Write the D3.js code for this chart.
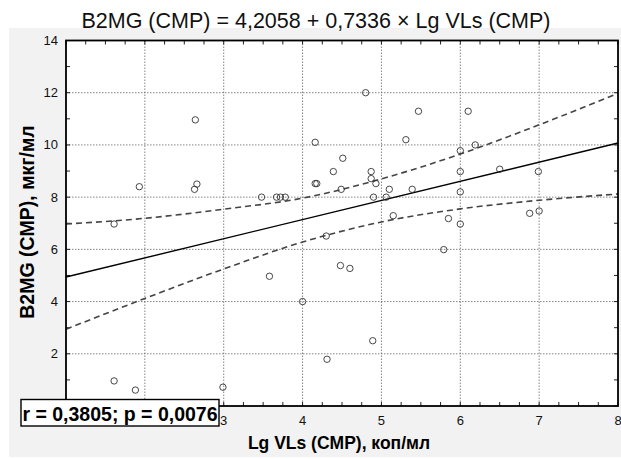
<!DOCTYPE html>
<html>
<head>
<meta charset="utf-8">
<script src="https://cdn.jsdelivr.net/npm/d3@7"></script>
<style>
  body { margin: 0; background: #fff; }
  svg { display: block; font-family: Arial, "Liberation Sans", sans-serif; }
</style>
</head>
<body>
<div id="chart"></div>
<script>
// values
var lgVL = [1.61, 1.93, 1.61, 1.88, 2.64, 2.66, 2.63, 2.99, 3.48, 3.58, 3.67, 3.72, 3.78,
  4.00, 4.16, 4.16, 4.18, 4.30, 4.31, 4.39, 4.48, 4.49, 4.51, 4.60, 4.80, 4.87, 4.87, 4.89,
  4.90, 4.93, 5.06, 5.10, 5.15, 5.31, 5.39, 5.47, 5.79, 5.85, 6.00, 6.00, 6.00, 6.00, 6.10,
  6.19, 6.50, 6.88, 6.99, 7.00];
var b2mg = [6.97, 8.40, 0.96, 0.61, 10.96, 8.50, 8.30, 0.72, 8.00, 4.97, 8.00, 8.00, 8.00,
  4.00, 10.10, 8.52, 8.52, 6.51, 1.79, 8.98, 5.38, 8.30, 9.49, 5.27, 12.00, 8.98, 8.71, 2.50,
  8.00, 8.52, 8.00, 8.30, 7.29, 10.20, 8.30, 11.29, 5.99, 7.18, 9.78, 8.98, 8.20, 6.97, 11.29,
  10.00, 9.07, 7.38, 8.98, 7.47];

// confidence band read at whole x
var bandX = [1, 2, 3, 4, 5, 6, 7, 8];
var bandUpper = [6.97, 7.19, 7.54, 7.96, 8.70, 9.65, 10.77, 11.98];
var bandLower = [2.94, 4.12, 5.25, 6.28, 7.05, 7.55, 7.88, 8.12];

var intercept = 4.2058, slope = 0.7336;
var xTicks = [3, 4, 5, 6, 7, 8];
var yTicks = [2, 4, 6, 8, 10, 12, 14];

var W = 621, H = 459;
var pLeft = 66, pRight = 618, pTop = 40.5, pBottom = 406;

var svg = d3.select('#chart').append('svg')
  .attr('width', W)
  .attr('height', H);

// grey panel
svg.append('rect')
  .attr('x', 9).attr('y', 28)
  .attr('width', W - 9).attr('height', H - 30)
  .attr('fill', '#f2f2f2');

var x = d3.scaleLinear().domain([1, 8]).range([pLeft, pRight]);
var y = d3.scaleLinear().domain([0, 14]).range([pBottom, pTop]);

svg.append('rect')
  .attr('x', pLeft).attr('y', pTop)
  .attr('width', pRight - pLeft).attr('height', pBottom - pTop)
  .attr('fill', '#fff');

// grid
var grid = svg.append('g').attr('stroke', '#666').attr('stroke-width', 0.8)
  .attr('stroke-dasharray', '1.5,1.5');
grid.selectAll('line.gx').data(d3.range(2, 8)).enter().append('line')
  .attr('x1', d => x(d)).attr('x2', d => x(d))
  .attr('y1', pTop).attr('y2', pBottom);
grid.selectAll('line.gy').data(d3.range(2, 14, 2)).enter().append('line')
  .attr('y1', d => y(d)).attr('y2', d => y(d))
  .attr('x1', pLeft).attr('x2', pRight);

// inward ticks on all four sides
var minorX = d3.range(1, 8.01, 0.25);
var minorY = d3.range(0, 14.01, 1);
var tk = svg.append('g').attr('stroke', '#222').attr('stroke-width', 1);
tk.selectAll('line.tb').data(minorX).enter().append('line')
  .attr('x1', d => x(d)).attr('x2', d => x(d))
  .attr('y1', pBottom).attr('y2', pBottom - 4);
tk.selectAll('line.tt').data(minorX).enter().append('line')
  .attr('x1', d => x(d)).attr('x2', d => x(d))
  .attr('y1', pTop).attr('y2', pTop + 4);
tk.selectAll('line.tl').data(minorY).enter().append('line')
  .attr('y1', d => y(d)).attr('y2', d => y(d))
  .attr('x1', pLeft).attr('x2', pLeft + 4);
tk.selectAll('line.tr').data(minorY).enter().append('line')
  .attr('y1', d => y(d)).attr('y2', d => y(d))
  .attr('x1', pRight).attr('x2', pRight - 4);

// band lines
var band = d3.line()
  .x((d, i) => x(bandX[i]))
  .y(d => y(d))
  .curve(d3.curveMonotoneX);

svg.append('path')
  .datum(bandUpper)
  .attr('d', band)
  .attr('fill', 'none').attr('stroke', '#444').attr('stroke-width', 1.6)
  .attr('stroke-dasharray', '6,4');
svg.append('path')
  .datum(bandLower)
  .attr('d', band)
  .attr('fill', 'none').attr('stroke', '#444').attr('stroke-width', 1.6)
  .attr('stroke-dasharray', '6,4');

// regression line
svg.append('line')
  .attr('x1', x(1)).attr('y1', y(intercept + slope * 1))
  .attr('x2', x(8)).attr('y2', y(intercept + slope * 8))
  .attr('stroke', '#000').attr('stroke-width', 1.4);

// points
svg.append('g').selectAll('circle')
  .data(lgVL).enter().append('circle')
  .attr('cx', d => x(d))
  .attr('cy', (d, i) => y(b2mg[i]))
  .attr('r', 3.2)
  .attr('fill', 'none')
  .attr('stroke', '#333')
  .attr('stroke-width', 0.9);

// frame
svg.append('rect')
  .attr('x', pLeft).attr('y', pTop)
  .attr('width', pRight - pLeft).attr('height', pBottom - pTop)
  .attr('fill', 'none').attr('stroke', '#000').attr('stroke-width', 1.8);

// tick labels
svg.selectAll('text.xl').data(xTicks).enter().append('text')
  .attr('x', d => x(d)).attr('y', pBottom + 18.5)
  .attr('text-anchor', 'middle')
  .attr('font-size', 13)
  .attr('fill', '#111')
  .text(d => d);
svg.selectAll('text.yl').data(yTicks).enter().append('text')
  .attr('x', pLeft - 8).attr('y', d => y(d) + 4.5)
  .attr('text-anchor', 'end')
  .attr('font-size', 13)
  .attr('fill', '#111')
  .text(d => d);

// title and axis titles
svg.append('text')
  .attr('x', 316).attr('y', 27.5)
  .attr('text-anchor', 'middle')
  .attr('font-size', 21.5)
  .attr('fill', '#111')
  .text('B2MG (CMP) = 4,2058 + 0,7336 × Lg VLs (CMP)');

svg.append('text')
  .attr('x', 339).attr('y', 449)
  .attr('text-anchor', 'middle')
  .attr('font-size', 17.5).attr('font-weight', 'bold')
  .text('Lg VLs (CMP), коп/мл');

svg.append('text')
  .attr('transform', 'translate(34,' + 222 + ') rotate(-90)')
  .attr('text-anchor', 'middle')
  .attr('font-size', 19.5).attr('font-weight', 'bold')
  .text('B2MG (CMP), мкг/мл');

// r / p box
var note = svg.append('g');
note.append('rect')
  .attr('x', 21).attr('y', 399.5)
  .attr('width', 198).attr('height', 26.5)
  .attr('fill', '#fff').attr('stroke', '#000').attr('stroke-width', 1.4);
note.append('text')
  .attr('x', 120).attr('y', 420.5)
  .attr('text-anchor', 'middle')
  .attr('font-size', 19.5).attr('font-weight', 'bold')
  .text('r = 0,3805; p = 0,0076');
</script>
</body>
</html>
